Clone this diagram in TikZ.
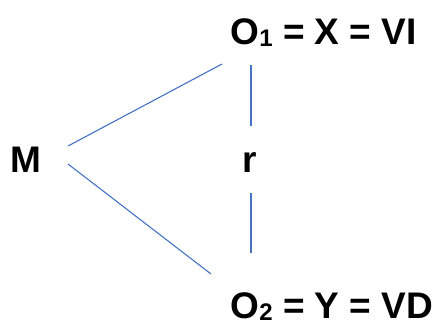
\documentclass[tikz,border=0pt]{standalone}
\usepackage{fontspec}
\setmainfont{Liberation Sans}
\definecolor{lineblue}{RGB}{68,114,196}
\tikzset{
  lbl/.style={inner sep=0pt, anchor=base west, text depth=0pt, font=\fontsize{37}{37}\selectfont\bfseries},
  conn/.style={draw=lineblue, line width=1.1pt}
}
\newcommand{\subsc}[1]{\raisebox{-2pt}{\fontsize{24}{24}\selectfont\bfseries #1}}
\begin{document}
\begin{tikzpicture}[x=1pt,y=-1pt]
\useasboundingbox (0,0) rectangle (433,325);
\node[lbl] (o1) at (230.5,44) {O\subsc{1} = X = VI};
\node[lbl] (o2) at (230.5,318) {O\subsc{2} = Y = VD};
\node[lbl] (m) at (10,172) {M};
\node[lbl] (r) at (242.5,172) {r};
\coordinate (ma) at (68,146);
\coordinate (mb) at (68,164);
\coordinate (oa) at (222,64);
\coordinate (ob) at (211,274);
\coordinate (v1) at (251,65);
\coordinate (v2) at (251,126);
\coordinate (v3) at (251,193);
\coordinate (v4) at (251,253);
\draw[conn] (ma) -- (oa);
\draw[conn] (mb) -- (ob);
\draw[conn] (v1) -- (v2);
\draw[conn] (v3) -- (v4);
\end{tikzpicture}
\end{document}
